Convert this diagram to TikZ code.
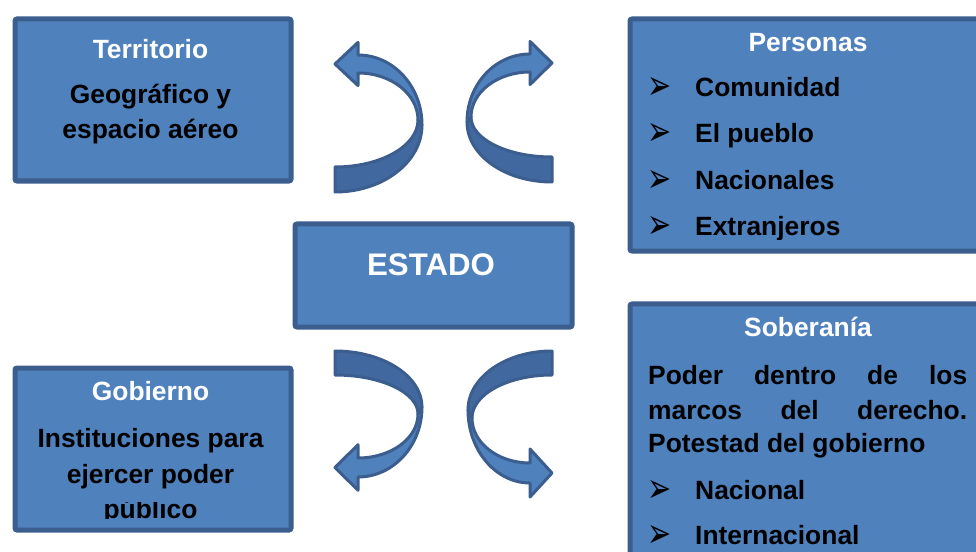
\documentclass[tikz,border=0pt]{standalone}
\usepackage{fontspec}
\setmainfont{Liberation Sans}
\newfontfamily\symfont{DejaVu Sans}
\definecolor{boxfill}{HTML}{4F81BD}
\definecolor{boxline}{HTML}{3B5E8E}
\definecolor{arrdarkc}{HTML}{4169A0}
\tikzset{
  panel/.style={draw=boxline, fill=boxfill, line width=5bp, rounded corners=2bp},
  arrdark/.style={draw=boxline, fill=arrdarkc, line width=3bp, line join=round},
  arrlight/.style={draw=boxline, fill=boxfill, line width=3bp, line join=round},
  ttl/.style={anchor=base, inner sep=0pt, text=white, font=\fontsize{26.4bp}{30bp}\selectfont\bfseries},
  txt/.style={anchor=base, inner sep=0pt, text=black, font=\fontsize{26.4bp}{30bp}\selectfont\bfseries},
  txtl/.style={anchor=base west, inner sep=0pt, text=black, font=\fontsize{26.4bp}{30bp}\selectfont\bfseries},
  bul/.style={anchor=base west, inner sep=0pt, text=black, font=\symfont\fontsize{36bp}{36bp}\selectfont},
}
\newcommand\bulletglyph{\raisebox{-3bp}[15bp][0pt]{\scalebox{0.8}[1.15]{➢}}}
% #1 tail x, #2 head base x, #3 turn x (outer), #4 tail outer y, #5 tail inner y,
% #6 turn outer y, #7 turn inner y, #8 shaft outer y, #9 shaft inner y
\newcommand\twistarrow[9]{%
 \pgfmathsetmacro\pxi{#3-4*(#3-#1)/abs(#3-#1)}%
 \pgfmathsetmacro\cia{#1+0.552*(\pxi-#1)}%
 \pgfmathsetmacro\cib{#7+0.552*(#5-#7)}%
 \pgfmathsetmacro\coa{#6+0.552*(#4-#6)}%
 \pgfmathsetmacro\cob{#1+0.552*(#3-#1)}%
 \pgfmathsetmacro\cla{#6+0.552*(#8-#6)}%
 \pgfmathsetmacro\clb{#2+0.552*(#3-#2)}%
 \pgfmathsetmacro\clc{#2+0.552*(\pxi-#2)}%
 \pgfmathsetmacro\cld{#7+0.552*(#9-#7)}%
 \pgfmathsetmacro\mm{(#8+#9)/2}%
 \pgfmathsetmacro\wo{\mm+2.4*(#8-#9)/2}%
 \pgfmathsetmacro\wi{\mm-2.4*(#8-#9)/2}%
 \filldraw[arrdark] (#1,#4) -- (#1,#5) .. controls (\cia,#5) and (\pxi,\cib) .. (\pxi,#7) -- (#3,#6) .. controls (#3,\coa) and (\cob,#4) .. (#1,#4) -- cycle;
 \filldraw[arrlight] (#3,#6) .. controls (#3,\cla) and (\clb,#8) .. (#2,#8) -- (#2,\wo) -- (#1,\mm) -- (#2,\wi) -- (#2,#9) .. controls (\clc,#9) and (\pxi,\cld) .. (\pxi,#7) -- cycle;
}
\begin{document}
\begin{tikzpicture}[x=1bp,y=-1bp]
\useasboundingbox (0,0) rectangle (976,552);
% boxes
\node[panel, minimum width=276bp, minimum height=162bp, anchor=north west] (terr) at (12.5,16.5) {};
\node[panel, minimum width=276bp, minimum height=162bp, anchor=north west] (gob) at (12.5,365.5) {};
\node[panel, minimum width=277bp, minimum height=103bp, anchor=north west] (estado) at (292.5,221.5) {};
\node[panel, minimum width=362bp, minimum height=232bp, anchor=north west] (pers) at (627.5,16.5) {};
\node[panel, minimum width=362bp, minimum height=300bp, anchor=north west] (sob) at (627.5,301.5) {};
% Territorio
\node[ttl] (t1) at (150.5,59) {Territorio};
\node[txt] (t2) at (150.5,104) {Geográfico y};
\node[txt] (t3) at (150.5,139) {espacio aéreo};
% Gobierno
\node[ttl] (g1) at (150.5,400) {Gobierno};
\node[txt] (g2) at (150.5,447) {Instituciones para};
\node[txt] (g3) at (150.5,483) {ejercer poder};
\begin{scope}
\clip (10,502) rectangle (291,518.5);
\node[txt] (g4) at (150.5,518) {público};
\end{scope}
% ESTADO
\node[anchor=base, inner sep=0pt, text=white, font=\fontsize{31.2bp}{34bp}\selectfont\bfseries] (e1) at (431,276) {ESTADO};
% Personas
\node[ttl] (p0) at (808,52) {Personas};
\node[bul] (pb1) at (647,97) {\bulletglyph};
\node[txtl] (p1) at (695,97) {Comunidad};
\node[bul] (pb2) at (647,143) {\bulletglyph};
\node[txtl] (p2) at (695,143) {El pueblo};
\node[bul] (pb3) at (647,190) {\bulletglyph};
\node[txtl] (p3) at (695,190) {Nacionales};
\begin{scope}
\clip (625,14) rectangle (990,239.5);
\node[bul] (pb4) at (647,236) {\bulletglyph};
\node[txtl] (p4) at (695,236) {Extranjeros};
\end{scope}
% Soberania
\node[ttl] (s0) at (808,337) {Soberanía};
\node[txtl] (s1) at (648,385) {\hbox to 319bp{Poder\hfill dentro\hfill de\hfill los}};
\node[txtl] (s2) at (648,419.5) {\hbox to 319bp{marcos\hfill del\hfill derecho.}};
\node[txtl] (s3) at (648,452.5) {Potestad del gobierno};
\node[bul] (sb1) at (647,499) {\bulletglyph};
\node[txtl] (s4) at (695,499) {Nacional};
\node[bul] (sb2) at (647,544) {\bulletglyph};
\node[txtl] (s5) at (695,544) {Internacional};
% curved arrows
\twistarrow{335}{358}{422}{192}{167}{125}{120}{55}{73}
\twistarrow{552}{530}{467}{182}{157}{122}{117}{54}{72}
\twistarrow{335}{358}{422}{351}{375}{407}{414}{477}{458}
\twistarrow{552}{530}{468}{351}{375}{410}{418}{483}{463}
\end{tikzpicture}
\end{document}
